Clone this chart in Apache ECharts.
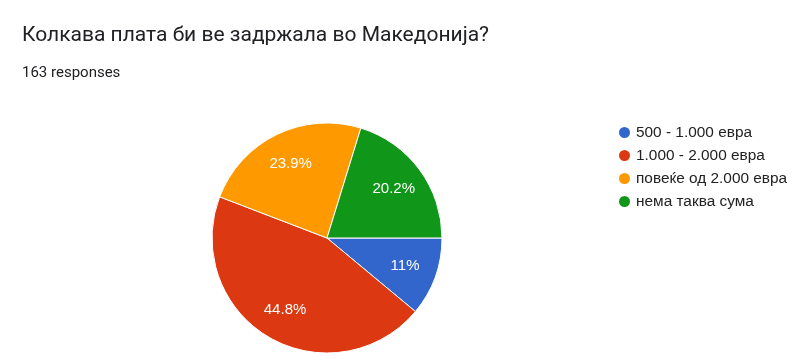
<!DOCTYPE html>
<html>
<head>
<meta charset="utf-8">
<script src="https://cdn.jsdelivr.net/npm/echarts@6/dist/echarts.min.js"></script>
<style>
html,body{margin:0;padding:0;background:#fff;}
#main{width:800px;height:364px;}
</style>
</head>
<body>
<div id="main"></div>
<script>
var categories = ['500 - 1.000 евра', '1.000 - 2.000 евра', 'повеќе од 2.000 евра', 'нема таква сума'];
var counts = [18, 73, 39, 33];
var colors = ['#3366cc', '#dc3912', '#ff9900', '#109618'];
var titleText = 'Колкава плата би ве задржала во Македонија?';
var subtitleText = '163 responses';

var total = counts.reduce(function(a, b){ return a + b; }, 0);
var data = categories.map(function(c, i){ return { name: c, value: counts[i], itemStyle: { color: colors[i] } }; });
var overlay = categories.map(function(c, i){ return { name: c, value: counts[i] }; });

var chart = echarts.init(document.getElementById('main'), null, { renderer: 'canvas' });
chart.setOption({
  backgroundColor: '#ffffff',
  animation: false,
  title: [{
    text: titleText,
    left: 17,
    top: 20,
    textStyle: { fontFamily: 'Roboto', fontSize: 21, fontWeight: 'normal', color: '#202124' }
  }, {
    text: subtitleText,
    left: 17,
    top: 61,
    textStyle: { fontFamily: 'Roboto', fontSize: 15, fontWeight: 'normal', color: '#202124' }
  }],
  legend: {
    orient: 'vertical',
    left: 612,
    top: 120,
    icon: 'circle',
    itemWidth: 13,
    itemHeight: 13,
    itemGap: 8,
    data: categories,
    textStyle: { fontFamily: 'Arial, Liberation Sans', fontSize: 15.4, color: '#222222', padding: [0, 0, 0, 0] }
  },
  series: [
    {
      type: 'pie',
      center: [327, 238],
      radius: [0, 115],
      startAngle: 0,
      clockwise: true,
      data: data,
      label: { show: false },
      labelLine: { show: false },
      itemStyle: { borderColor: '#ffffff', borderWidth: 1 },
      emphasis: { disabled: true }
    },
    {
      type: 'pie',
      center: [327, 238],
      radius: [45, 115],
      startAngle: 0,
      clockwise: true,
      silent: true,
      legendHoverLink: false,
      data: overlay,
      itemStyle: { color: 'rgba(0,0,0,0)', borderWidth: 0 },
      label: {
        show: true,
        position: 'inside',
        fontFamily: 'Arial, Liberation Sans',
        fontSize: 15,
        color: '#ffffff',
        formatter: function(p){
          var v = Math.round(p.value / total * 1000) / 10;
          return v + '%';
        }
      },
      labelLine: { show: false },
      emphasis: { disabled: true }
    }
  ]
});
</script>
</body>
</html>
